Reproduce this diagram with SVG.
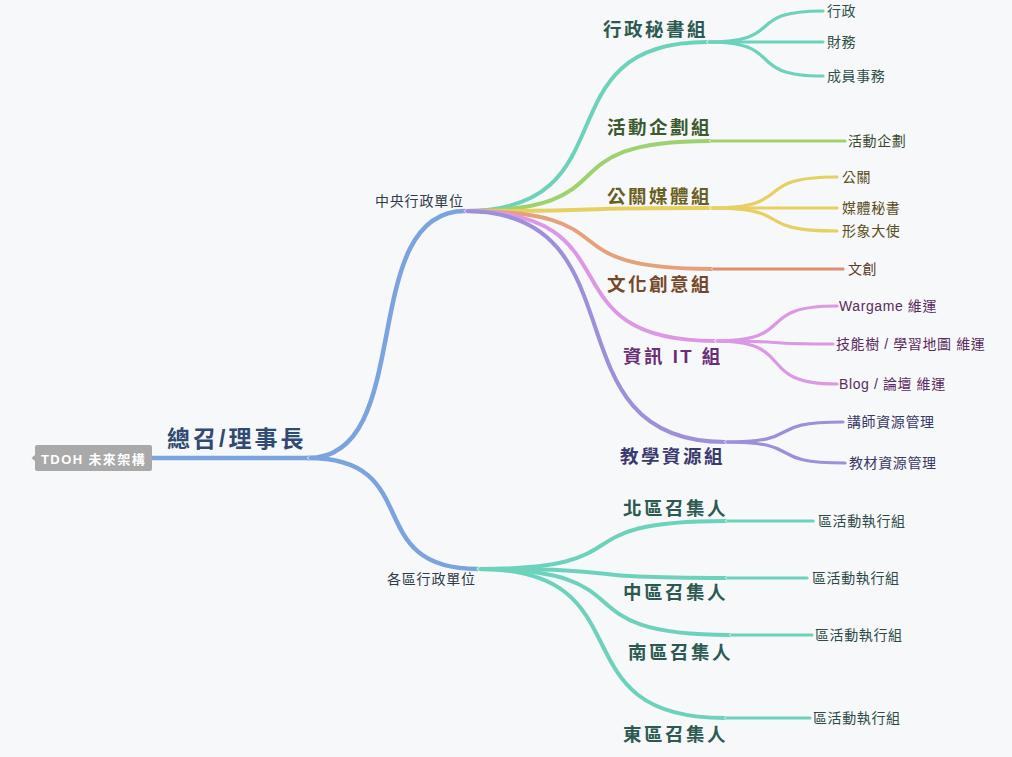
<svg xmlns="http://www.w3.org/2000/svg" width="1012" height="757" viewBox="0 0 1012 757">
<style>
  text { font-family: "Liberation Sans", "Noto Sans CJK TC", sans-serif; }
  .root { font-size: 23px; font-weight: bold; fill: #2f4a73; letter-spacing: 3px; }
  .l1 { font-size: 14px; fill: #2f3a4a; letter-spacing: 0.8px; }
  .l2 { font-size: 18.5px; font-weight: bold; letter-spacing: 2.5px; }
  .l3 { font-size: 14px; letter-spacing: 0.6px; }
  .c { fill: none; stroke-linecap: round; }
  .w1 { stroke-width: 4.5; }
  .w2 { stroke-width: 4; }
  .w3 { stroke-width: 3.2; }
  .blue { stroke: #7ba3de; }
  .teal { stroke: #6dd2bc; }
  .green { stroke: #9dd26c; }
  .yellow { stroke: #e6d061; }
  .orange { stroke: #e4a27c; }
  .orange2 { stroke: #df8d70; }
  .pink { stroke: #dc98e4; }
  .purple { stroke: #9d8fd9; }
</style>
<defs>
  <marker id="notch" markerUnits="userSpaceOnUse" markerWidth="6" markerHeight="6" viewBox="-3 -3 6 6" refX="0" refY="0" orient="auto">
    <path d="M1.2,-1.8 L-0.6,0 L1.2,1.8" fill="none" stroke="#ffffff" stroke-width="0.8"/>
  </marker>
</defs>
<rect width="1012" height="757" fill="#f7f8f9"/>

<g id="connectors">
  <path class="c w1 blue" d="M152,458 L308,458"/>
  <path class="c w1 blue" marker-start="url(#notch)" d="M308,458 C417.9,458 355.1,211 465,211"/>
  <path class="c w1 blue" marker-start="url(#notch)" d="M308,458 C427,458 359,569 478,569"/>

  <path class="c w2 teal" marker-start="url(#notch)" d="M465,211 C634.4,211 537.6,42 707,42"/>
  <path class="c w2 green" marker-start="url(#notch)" d="M465,211 C636.5,211 538.5,141 710,141"/>
  <path class="c w2 yellow" marker-start="url(#notch)" d="M465,211 C636.5,211 538.5,208 710,208"/>
  <path class="c w2 orange" marker-start="url(#notch)" d="M465,211 C637.9,211 539.1,269 712,269"/>
  <path class="c w2 pink" marker-start="url(#notch)" d="M465,211 C640,211 540,341 715,341"/>
  <path class="c w2 purple" marker-start="url(#notch)" d="M465,211 C647,211 543,442 725,442"/>

  <path class="c w2 teal" marker-start="url(#notch)" d="M478,569 C651.6,569 552.4,521 726,521"/>
  <path class="c w2 teal" marker-start="url(#notch)" d="M478,569 C651.6,569 552.4,578 726,578"/>
  <path class="c w2 teal" marker-start="url(#notch)" d="M478,569 C654.4,569 553.6,635 730,635"/>
  <path class="c w2 teal" marker-start="url(#notch)" d="M478,569 C650.9,569 552.1,718 725,718"/>

  <path class="c w3 teal" marker-start="url(#notch)" d="M707,42 C788.2,42 741.8,11 823,11"/>
  <path class="c w3 teal" marker-start="url(#notch)" d="M707,42 L823,42"/>
  <path class="c w3 teal" marker-start="url(#notch)" d="M707,42 C788.2,42 741.8,76 823,76"/>

  <path class="c w3 green" marker-start="url(#notch)" d="M710,141 L845,141"/>

  <path class="c w3 yellow" marker-start="url(#notch)" d="M710,208 C798.9,208 748.1,177 837,177"/>
  <path class="c w3 yellow" marker-start="url(#notch)" d="M710,208 L837,208"/>
  <path class="c w3 yellow" marker-start="url(#notch)" d="M710,208 C798.9,208 748.1,231 837,231"/>

  <path class="c w3 orange2" marker-start="url(#notch)" d="M712,269 L843,269"/>

  <path class="c w3 pink" marker-start="url(#notch)" d="M715,341 C800.4,341 751.6,306 837,306"/>
  <path class="c w3 pink" marker-start="url(#notch)" d="M715,341 C797.6,341 750.4,344 833,344"/>
  <path class="c w3 pink" marker-start="url(#notch)" d="M715,341 C800.4,341 751.6,384 837,384"/>

  <path class="c w3 purple" marker-start="url(#notch)" d="M725,442 C807.6,442 760.4,422 843,422"/>
  <path class="c w3 purple" marker-start="url(#notch)" d="M725,442 C809,442 761,463 845,463"/>

  <path class="c w3 teal" marker-start="url(#notch)" d="M726,521 L813,521"/>
  <path class="c w3 teal" marker-start="url(#notch)" d="M726,578 L807,578"/>
  <path class="c w3 teal" marker-start="url(#notch)" d="M730,635 L812,635"/>
  <path class="c w3 teal" marker-start="url(#notch)" d="M725,718 L810,718"/>
</g>

<g id="node-tdoh">
  <path d="M37,445 H150 Q152,445 152,447 V469 Q152,471 150,471 H37 Q35,471 35,469 V461 L31.5,458 L35,455 V447 Q35,445 37,445 Z" fill="#a9a9a9"/>
  <text x="41" y="464" font-size="13" font-weight="600" fill="#ffffff" letter-spacing="1.4">TDOH 未來架構</text>
</g>
<g id="node-root"><text class="root" x="167" y="446.5">總召/理事長</text></g>

<g id="node-central"><text class="l1" x="375" y="206">中央行政單位</text></g>
<g id="node-regional"><text class="l1" x="387" y="584">各區行政單位</text></g>

<g id="node-secretary"><text class="l2" x="603" y="35.5" fill="#2c5a52">行政秘書組</text></g>
<g id="node-activity"><text class="l2" x="607" y="133.5" fill="#3b5a2e">活動企劃組</text></g>
<g id="node-pr"><text class="l2" x="607" y="202.5" fill="#6b5e22">公關媒體組</text></g>
<g id="node-culture"><text class="l2" x="607" y="290.5" fill="#74482a">文化創意組</text></g>
<g id="node-it"><text class="l2" x="623" y="362.5" fill="#6a2e78">資訊 IT 組</text></g>
<g id="node-teaching"><text class="l2" x="620" y="462.5" fill="#3a3a6e">教學資源組</text></g>

<g id="node-north"><text class="l2" x="623" y="514.5" fill="#2c5a52">北區召集人</text></g>
<g id="node-middle"><text class="l2" x="623" y="599" fill="#2c5a52">中區召集人</text></g>
<g id="node-south"><text class="l2" x="628" y="659" fill="#2c5a52">南區召集人</text></g>
<g id="node-east"><text class="l2" x="623" y="741" fill="#2c5a52">東區召集人</text></g>

<g id="node-admin"><text class="l3" x="827" y="15.5" fill="#2c4f4a">行政</text></g>
<g id="node-finance"><text class="l3" x="827" y="46.5" fill="#2c4f4a">財務</text></g>
<g id="node-members"><text class="l3" x="827" y="80.5" fill="#2c4f4a">成員事務</text></g>
<g id="node-activity-plan"><text class="l3" x="848" y="145.5" fill="#3a4a30">活動企劃</text></g>
<g id="node-public"><text class="l3" x="842" y="181.5" fill="#5a4d20">公關</text></g>
<g id="node-media-sec"><text class="l3" x="842" y="212.5" fill="#5a4d20">媒體秘書</text></g>
<g id="node-ambassador"><text class="l3" x="842" y="235.5" fill="#5a4d20">形象大使</text></g>
<g id="node-creative"><text class="l3" x="848" y="273.5" fill="#5a3a28">文創</text></g>
<g id="node-wargame"><text class="l3" x="839" y="310.5" fill="#5a2a60">Wargame 維運</text></g>
<g id="node-skilltree"><text class="l3" x="836" y="348.5" fill="#5a2a60">技能樹 / 學習地圖 維運</text></g>
<g id="node-blog"><text class="l3" x="839" y="388.5" fill="#5a2a60">Blog / 論壇 維運</text></g>
<g id="node-lecturer"><text class="l3" x="847" y="426.5" fill="#3a3866">講師資源管理</text></g>
<g id="node-material"><text class="l3" x="849" y="467.5" fill="#3a3866">教材資源管理</text></g>
<g id="node-north-exec"><text class="l3" x="818" y="525.5" fill="#2c4a48">區活動執行組</text></g>
<g id="node-middle-exec"><text class="l3" x="812" y="582.5" fill="#2c4a48">區活動執行組</text></g>
<g id="node-south-exec"><text class="l3" x="815" y="639.5" fill="#2c4a48">區活動執行組</text></g>
<g id="node-east-exec"><text class="l3" x="813" y="722.5" fill="#2c4a48">區活動執行組</text></g>
</svg>
